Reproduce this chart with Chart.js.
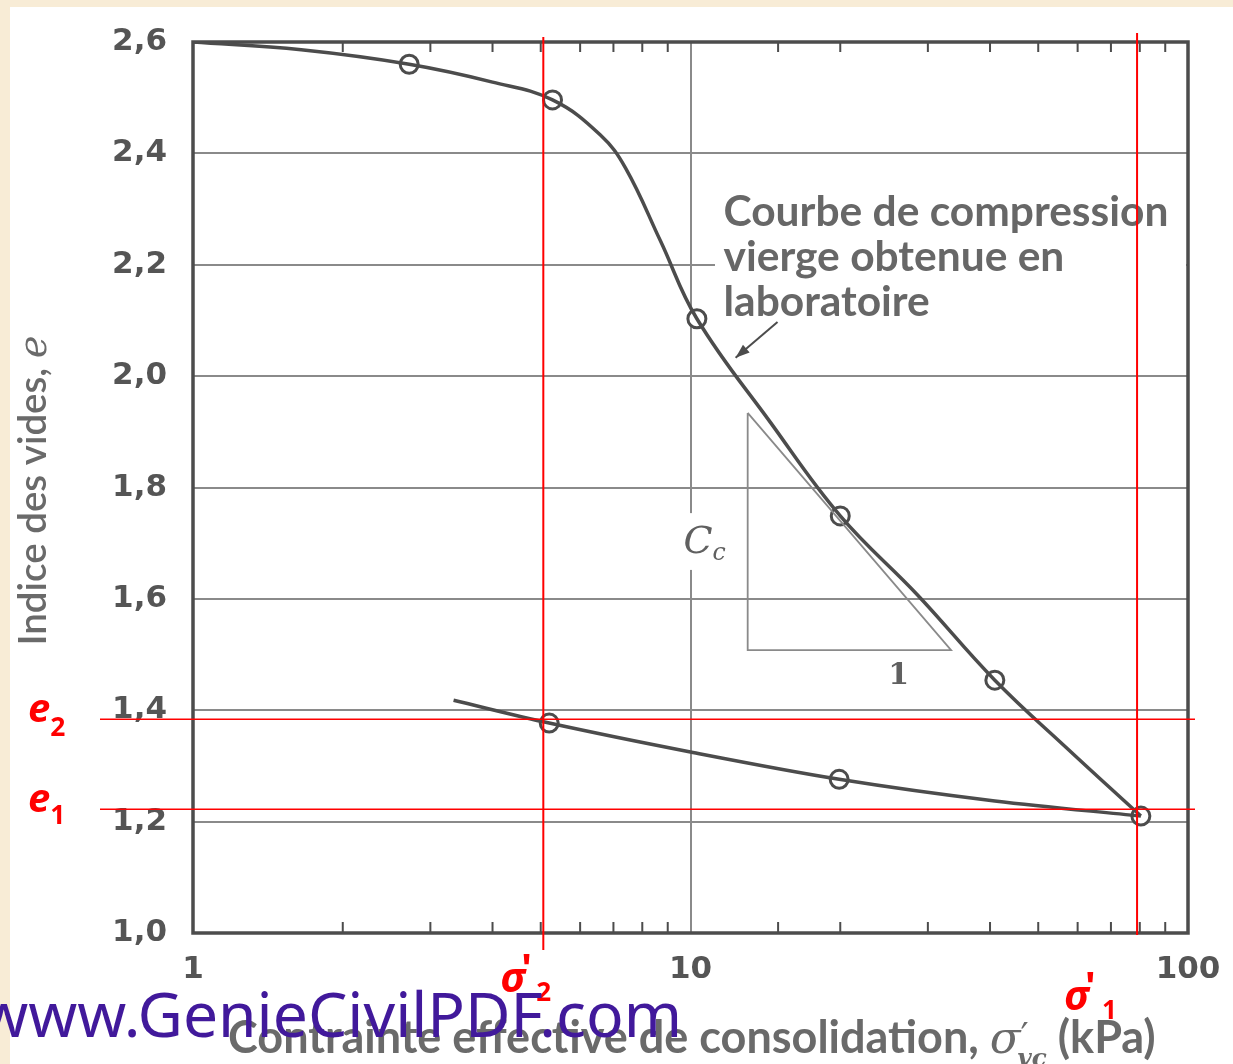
<!DOCTYPE html>
<html lang="fr">
<head>
<meta charset="utf-8">
<title>Courbe de compression</title>
<script src="https://cdn.jsdelivr.net/npm/chart.js@4.4.0/dist/chart.umd.min.js"></script>
<style>
  html, body { margin:0; padding:0; background:#f8ecd6; }
  canvas { display:block; }
</style>
</head>
<body>
<canvas id="graphe" width="1233" height="1064"></canvas>
<script>
// ===== DONNEES =====
// courbe de compression vierge (chargement)
const chargeX = [1, 1.65, 2.72, 4.0, 5.28, 6.59, 7.40, 8.70, 10.3, 14.5, 20.0, 28.6, 40.9, 57.4, 80.4];
const chargeY = [2.600, 2.586, 2.560, 2.528, 2.496, 2.433, 2.374, 2.243, 2.103, 1.916, 1.749, 1.607, 1.454, 1.330, 1.21];
// déchargement
const dechargeX = [3.34, 5.2, 10, 19.9, 40.9, 80.4];
const dechargeY = [1.418, 1.377, 1.325, 1.276, 1.237, 1.21];
// points d'essai (cercles)
const essaisX = [2.72, 5.28, 10.3, 20.0, 40.9, 80.4, 5.2, 19.9];
const essaisY = [2.560, 2.496, 2.103, 1.749, 1.454, 1.21, 1.377, 1.276];
// triangle de pente Cc
const triangleX = [13.03, 13.03, 33.4, 13.03];
const triangleY = [1.934, 1.508, 1.508, 1.934];
// graduations
const ticksY = [1.0, 1.2, 1.4, 1.6, 1.8, 2.0, 2.2, 2.4, 2.6];
const labelsX = [1, 10, 100];
// repères rouges
const sigma2 = 5.06, sigma1 = 79;
const e2 = 1.384, e1 = 1.222;

const ENCRE = '#4c4c4c';
const GRILLE = '#8a8a8a';
const ROUGE = '#ff0000';

function px(c, v){ return c.scales.x.getPixelForValue(v); }
function py(c, v){ return c.scales.y.getPixelForValue(v); }

// taille de police pour qu'un texte occupe une largeur donnée
function tailleAjustee(ctx, txt, largeur, police){
  ctx.font = police.replace('{s}', '100px');
  return 100 * largeur / ctx.measureText(txt).width;
}

// texte composé (indices, exposants)
function texteRiche(ctx, morceaux, x, y, taille){
  let cx = x;
  morceaux.forEach(m=>{
    ctx.font = m.police.replace('{s}', (taille*(m.rel||1)).toFixed(1)+'px');
    ctx.fillText(m.t, cx + (m.dx||0)*taille, y + (m.dy||0)*taille);
    cx += ctx.measureText(m.t).width + (m.dx||0)*taille;
  });
  return cx - x;
}
function largeurRiche(ctx, morceaux, taille){
  let w = 0;
  morceaux.forEach(m=>{
    ctx.font = m.police.replace('{s}', (taille*(m.rel||1)).toFixed(1)+'px');
    w += ctx.measureText(m.t).width + (m.dx||0)*taille;
  });
  return w;
}

// ===== DECOR =====
const decor = {
  id: 'decor',
  beforeDraw(c){
    const ctx = c.ctx;
    ctx.save();
    ctx.fillStyle = '#f8ecd6';
    ctx.fillRect(0, 0, c.width, c.height);
    ctx.fillStyle = '#ffffff';
    ctx.fillRect(10, 7, c.width-10, c.height-7);
    ctx.restore();
  },
  beforeDatasetsDraw(c){
    const ctx = c.ctx, a = c.chartArea, sx = c.scales.x;
    ctx.save();
    // fonds blancs sous les annotations
    ctx.fillStyle = '#ffffff';
    ctx.fillRect(px(c,11.2), py(c,2.334), a.right-2-px(c,11.2), py(c,2.083)-py(c,2.334));
    ctx.fillRect(px(c,9.55), py(c,1.754), px(c,12.49)-px(c,9.55), py(c,1.652)-py(c,1.754));
    // petites graduations intérieures
    ctx.strokeStyle = ENCRE;
    ctx.lineWidth = 2;
    sx.ticks.forEach(t=>{
      if(labelsX.includes(t.value)) return;
      const x = sx.getPixelForValue(t.value);
      ctx.beginPath();
      ctx.moveTo(x, a.top); ctx.lineTo(x, a.top+10);
      ctx.moveTo(x, a.bottom); ctx.lineTo(x, a.bottom-11);
      ctx.stroke();
    });
    // cadre
    ctx.lineWidth = 3.5;
    ctx.strokeRect(a.left, a.top, a.right-a.left, a.bottom-a.top);
    ctx.restore();
  },
  afterDatasetsDraw(c){
    const ctx = c.ctx, a = c.chartArea;
    ctx.save();

    // annotation de la courbe
    const lignes = ['Courbe de compression', 'vierge obtenue en', 'laboratoire'];
    const polAnn = 'bold {s} Lato, "Open Sans", sans-serif';
    const tAnn = tailleAjustee(ctx, lignes[0], 445, polAnn);
    ctx.font = polAnn.replace('{s}', tAnn.toFixed(1)+'px');
    ctx.fillStyle = '#676767';
    ctx.textBaseline = 'alphabetic';
    ctx.textAlign = 'left';
    const xAnn = px(c, 11.65), yAnn = py(c, 2.270);
    lignes.forEach((l,i)=> ctx.fillText(l, xAnn, yAnn + i*45));

    // flèche
    const x0 = px(c,14.96), y0 = py(c,2.097), x1 = px(c,12.32), y1 = py(c,2.033);
    const ang = Math.atan2(y1-y0, x1-x0);
    ctx.strokeStyle = ENCRE; ctx.fillStyle = ENCRE; ctx.lineWidth = 2;
    ctx.beginPath(); ctx.moveTo(x0,y0); ctx.lineTo(x1,y1); ctx.stroke();
    ctx.beginPath();
    ctx.moveTo(x1,y1);
    ctx.lineTo(x1-15*Math.cos(ang-0.35), y1-15*Math.sin(ang-0.35));
    ctx.lineTo(x1-15*Math.cos(ang+0.35), y1-15*Math.sin(ang+0.35));
    ctx.closePath(); ctx.fill();

    // Cc et 1
    ctx.fillStyle = '#606060';
    texteRiche(ctx, [
      {t:'C', police:'italic {s} "DejaVu Serif", serif'},
      {t:'c', police:'italic {s} "DejaVu Serif", serif', rel:0.62, dy:0.18}
    ], px(c,9.68), py(c,1.682), 38);
    ctx.font = 'bold 30px "DejaVu Serif", serif';
    ctx.textAlign = 'center';
    ctx.fillText('1', px(c,26.2), py(c,1.447));
    ctx.textAlign = 'left';

    // repères rouges
    ctx.strokeStyle = ROUGE;
    ctx.lineWidth = 2;
    ctx.beginPath();
    ctx.moveTo(px(c,sigma2), a.top-5); ctx.lineTo(px(c,sigma2), a.bottom+17);
    ctx.moveTo(px(c,sigma1), a.top-9); ctx.lineTo(px(c,sigma1), a.bottom+2);
    ctx.stroke();
    ctx.lineWidth = 1.5;
    ctx.beginPath();
    ctx.moveTo(a.left-93, py(c,e2)); ctx.lineTo(a.right+7, py(c,e2));
    ctx.moveTo(a.left-93, py(c,e1)); ctx.lineTo(a.right+7, py(c,e1));
    ctx.stroke();

    // étiquettes rouges
    ctx.fillStyle = ROUGE;
    const polR = 'italic bold {s} "Noto Sans", sans-serif';
    const polRs = 'bold {s} "Noto Sans", sans-serif';
    texteRiche(ctx, [{t:'e', police:polR}, {t:'2', police:polRs, rel:0.66, dy:0.35}], 28, py(c,e2)+3, 40);
    texteRiche(ctx, [{t:'e', police:polR}, {t:'1', police:polRs, rel:0.66, dy:0.3}], 28, py(c,e1)+3, 40);
    const sigmaLabel = (x, y, indice, dxi) => {
      ctx.font = polR.replace('{s}', '42px');
      ctx.fillText('σ', x, y);
      ctx.font = polRs.replace('{s}', '40px');
      ctx.fillText("'", x+21, y-10);
      ctx.font = polRs.replace('{s}', '26px');
      ctx.fillText(indice, x+dxi, y+9);
    };
    sigmaLabel(px(c,sigma2)-43, a.bottom+59, '2', 36);
    sigmaLabel(px(c,sigma1)-73, a.bottom+77, '1', 38);

    // titre axe Y
    ctx.fillStyle = '#6a6a6a';
    const titreY = [
      {t:'Indice des vides, ', police:'600 {s} Lato, sans-serif'},
      {t:'e', police:'italic {s} "DejaVu Serif", serif'}
    ];
    const tY = 30 * 310 / largeurRiche(ctx, titreY, 30);
    ctx.save();
    ctx.translate(46, (a.top+a.bottom)/2+3);
    ctx.rotate(-Math.PI/2);
    texteRiche(ctx, titreY, -largeurRiche(ctx, titreY, tY)/2, 0, tY);
    ctx.restore();

    // titre axe X
    const titreX = [
      {t:'Contrainte effective de consolidation, ', police:'bold {s} Lato, sans-serif'},
      {t:'σ', police:'italic {s} "DejaVu Serif", serif'},
      {t:'\u2032', police:'{s} "DejaVu Serif", serif', rel:0.8, dy:-0.12},
      {t:'vc', police:'italic bold {s} "DejaVu Serif", serif', rel:0.55, dy:0.28, dx:-0.25},
      {t:' (kPa)', police:'bold {s} Lato, sans-serif'}
    ];
    const tX = 36 * 927 / largeurRiche(ctx, titreX, 36);
    texteRiche(ctx, titreX, 228, 1053, tX);

    // filigrane
    ctx.fillStyle = '#41199b';
    const wm = 'www.GenieCivilPDF.com';
    const polW = '{s} "Noto Sans", sans-serif';
    const tW = tailleAjustee(ctx, 'GenieCivilPDF.com', 545, polW);
    ctx.font = polW.replace('{s}', tW.toFixed(1)+'px');
    ctx.textAlign = 'right';
    ctx.fillText(wm, 682, 1037);

    ctx.restore();
  }
};

// ===== GRAPHIQUE =====
const points = (xs, ys) => xs.map((x,i)=>({x, y: ys[i]}));

new Chart(document.getElementById('graphe'), {
  type: 'line',
  data: {
    datasets: [
      { label:'Chargement', data: points(chargeX, chargeY), borderColor: ENCRE, borderWidth: 3.5,
        pointRadius: 0, tension: 0.4, fill: false },
      { label:'Déchargement', data: points(dechargeX, dechargeY), borderColor: ENCRE, borderWidth: 3.5,
        pointRadius: 0, tension: 0.35, fill: false },
      { label:'Pente', data: points(triangleX, triangleY), borderColor: GRILLE, borderWidth: 1.8,
        pointRadius: 0, tension: 0, fill: false },
      { label:'Essais', data: points(essaisX, essaisY), showLine: false, pointRadius: 9,
        pointBackgroundColor: '#ffffff', pointBorderColor: ENCRE, pointBorderWidth: 3 }
    ]
  },
  options: {
    responsive: false,
    animation: false,
    devicePixelRatio: 1,
    layout: { autoPadding: false, padding: { left: 0, top: 42, right: 45, bottom: 0 } },
    plugins: { legend: { display: false }, tooltip: { enabled: false } },
    scales: {
      x: {
        type: 'logarithmic', min: 1, max: 100,
        afterFit: s => { s.height = 131; s.paddingLeft = 0; s.paddingRight = 0; },
        border: { display: false },
        grid: { color: g => (g.tick && g.tick.value === 10) ? GRILLE : 'rgba(0,0,0,0)', lineWidth: 2, drawTicks: false },
        ticks: {
          autoSkip: false, maxRotation: 0, padding: 18, color: '#555555',
          font: { family: 'DejaVu Sans', weight: 'bold', size: 31 },
          callback: v => labelsX.includes(v) ? String(v) : ''
        }
      },
      y: {
        min: 1.0, max: 2.6,
        afterFit: s => { s.width = 193; s.paddingTop = 0; s.paddingBottom = 0; },
        afterBuildTicks: s => { s.ticks = ticksY.map(v=>({value: v})); },
        border: { display: false },
        grid: { color: GRILLE, lineWidth: 2, drawTicks: false },
        ticks: {
          padding: 26, color: '#555555',
          font: { family: 'DejaVu Sans', weight: 'bold', size: 31 },
          callback: v => Number(v).toFixed(1).replace('.', ',')
        }
      }
    }
  },
  plugins: [decor]
});
</script>
</body>
</html>
